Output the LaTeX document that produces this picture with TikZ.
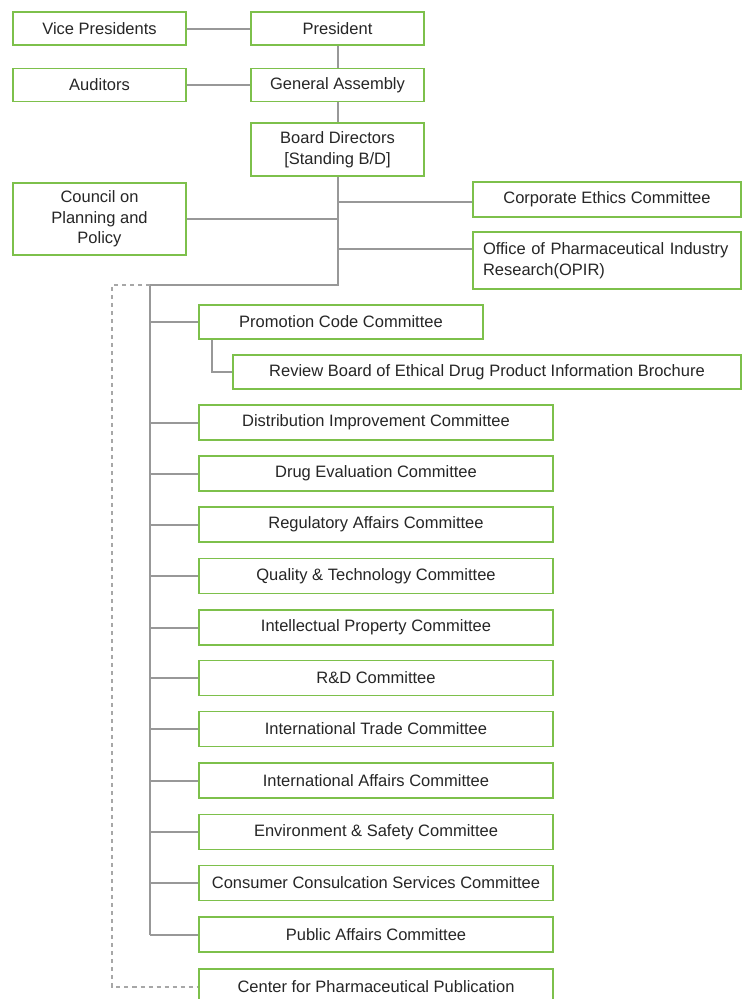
\documentclass[tikz,border=0pt]{standalone}
\usepackage{fontspec}
\setmainfont{Liberation Sans}
\definecolor{boxgreen}{RGB}{125,192,75}
\definecolor{linegray}{RGB}{152,152,152}

\begin{document}
\begin{tikzpicture}[x=1pt, y=-1pt,
        orgbox/.style={draw=boxgreen, line width=1.4pt, fill=white, text=black!85, minimum width=173pt, minimum height=33pt, inner sep=2pt, font=\fontsize{16.5}{20.5}\selectfont, align=center},
        cmtbox/.style={orgbox, minimum width=354pt, minimum height=35pt},
        link/.style={draw=linegray, line width=2pt},
        dashlink/.style={draw=linegray!85, line width=2pt, dash pattern=on 4pt off 4pt}]
        \useasboundingbox (0, 0) rectangle (747, 999);
        \node[orgbox] (vp) at (99.5, 28.5) {Vice Presidents};
        \node[orgbox] (pres) at (337.5, 28.5) {President};
        \node[orgbox] (aud) at (99.5, 85) {Auditors};
        \node[orgbox] (ga) at (337.5, 85) {General Assembly};
        \node[orgbox, minimum height=53pt] (bd) at (337.5, 149.5) {Board Directors\\{}[Standing B/D]};
        \node[orgbox, minimum height=72pt] (cpp) at (99.5, 219) {Council on\\Planning and\\Policy};
        \node[orgbox, minimum width=268pt, minimum height=35pt] (ce) at (607, 199.5) {Corporate Ethics Committee};
        \node[orgbox, minimum width=268pt, minimum height=57pt, align=left, text width=248pt] (opir) at (607, 260.5) {Office of Pharmaceutical Industry\\Research(OPIR)};
        \coordinate (trunk) at (150, 285);
        \coordinate (dashtop) at (112, 285);
        \draw[link] (vp) -- (pres);
        \draw[link] (aud) -- (ga);
        \draw[link] (pres) -- (ga);
        \draw[link] (ga) -- (bd);
        \draw[link] (cpp.east) -- (cpp.east -| bd.south);
        \draw[link] ([yshift=-2.5pt]ce.west) -- ([yshift=-2.5pt]ce.west -| bd.south);
        \draw[link] ([yshift=11.5pt]opir.west) -- ([yshift=11.5pt]opir.west -| bd.south);
        \node[orgbox, minimum width=284pt, minimum height=34pt] (promo) at (341, 322) {Promotion Code Committee};
        \node[orgbox, minimum width=508pt, minimum height=34pt] (review) at (487, 372) {Review Board of Ethical Drug Product Information Brochure};
        \draw[link] ([xshift=14pt]promo.south west) |- (review.west);
        \foreach \cname/\cy/\ctext in {dist/422.5/Distribution Improvement Committee, drug/473.5/Drug Evaluation Committee, reg/524.5/Regulatory Affairs Committee, qual/576/Quality \& Technology Committee, ip/627.5/Intellectual Property Committee, rnd/678/R\&D Committee, trade/729/International Trade Committee, intl/780.5/International Affairs Committee, env/832/Environment \& Safety Committee, cons/883/Consumer Consulcation Services Committee, pub/934.5/Public Affairs Committee} {
                \node[cmtbox] (\cname) at (376, \cy) {\ctext};
                \draw[link] (trunk |- \cname.west) -- (\cname.west);
        }
        \node[cmtbox] (cpub) at (376, 986.5) {Center for Pharmaceutical Publication};
        \draw[link] (bd.south) |- (trunk) -- (trunk |- pub.west);
        \draw[link] (trunk |- promo.west) -- (promo.west);
        \draw[dashlink] (trunk) -- (dashtop) |- (cpub.west);
      \end{tikzpicture}
\end{document}
